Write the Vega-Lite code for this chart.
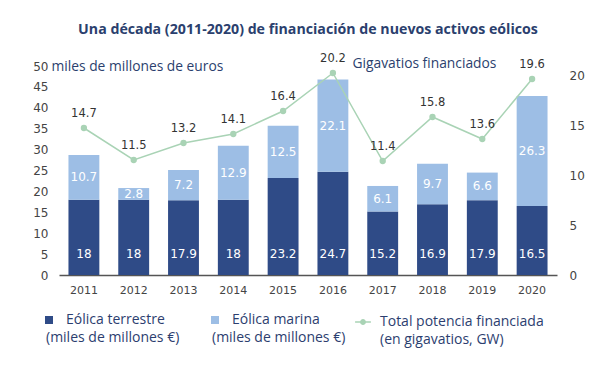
{
  "$schema": "https://vega.github.io/schema/vega-lite/v6.json",
  "width": 498,
  "height": 209,
  "autosize": {"type": "none"},
  "padding": {"left": 59, "top": 66, "right": 36, "bottom": 92},
  "background": "white",
  "title": {
    "text": "Una década (2011-2020) de financiación de nuevos activos eólicos",
    "font": "Open Sans",
    "fontSize": 14.2,
    "fontWeight": "bold",
    "color": "#2B3F6E",
    "anchor": "middle",
    "offset": 16
  },
  "config": {
    "view": {"stroke": null},
    "axis": {"grid": false, "ticks": false}
  },
  "datasets": {
    "bars": [
      {"year": "2011", "serie": "Eólica terrestre", "valor": 18},
      {"year": "2011", "serie": "Eólica marina", "valor": 10.7},
      {"year": "2012", "serie": "Eólica terrestre", "valor": 18},
      {"year": "2012", "serie": "Eólica marina", "valor": 2.8},
      {"year": "2013", "serie": "Eólica terrestre", "valor": 17.9},
      {"year": "2013", "serie": "Eólica marina", "valor": 7.2},
      {"year": "2014", "serie": "Eólica terrestre", "valor": 18},
      {"year": "2014", "serie": "Eólica marina", "valor": 12.9},
      {"year": "2015", "serie": "Eólica terrestre", "valor": 23.2},
      {"year": "2015", "serie": "Eólica marina", "valor": 12.5},
      {"year": "2016", "serie": "Eólica terrestre", "valor": 24.7},
      {"year": "2016", "serie": "Eólica marina", "valor": 22.1},
      {"year": "2017", "serie": "Eólica terrestre", "valor": 15.2},
      {"year": "2017", "serie": "Eólica marina", "valor": 6.1},
      {"year": "2018", "serie": "Eólica terrestre", "valor": 16.9},
      {"year": "2018", "serie": "Eólica marina", "valor": 9.7},
      {"year": "2019", "serie": "Eólica terrestre", "valor": 17.9},
      {"year": "2019", "serie": "Eólica marina", "valor": 6.6},
      {"year": "2020", "serie": "Eólica terrestre", "valor": 16.5},
      {"year": "2020", "serie": "Eólica marina", "valor": 26.3}
    ],
    "gw": [
      {"year": "2011", "gw": 14.7},
      {"year": "2012", "gw": 11.5},
      {"year": "2013", "gw": 13.2},
      {"year": "2014", "gw": 14.1},
      {"year": "2015", "gw": 16.4},
      {"year": "2016", "gw": 20.2},
      {"year": "2017", "gw": 11.4},
      {"year": "2018", "gw": 15.8},
      {"year": "2019", "gw": 13.6},
      {"year": "2020", "gw": 19.6}
    ]
  },
  "encoding": {
    "x": {
      "field": "year",
      "type": "ordinal",
      "scale": {"paddingInner": 0.38, "paddingOuter": 0.19},
      "axis": {
        "title": null,
        "labelAngle": 0,
        "labelFont": "DejaVu Sans",
        "labelFontSize": 11,
        "labelColor": "#444444",
        "labelPadding": 9,
        "domainColor": "#555555",
        "domainWidth": 1.5
      }
    }
  },
  "layer": [
    {
      "data": {"name": "bars"},
      "encoding": {
        "y": {
          "field": "valor",
          "type": "quantitative",
          "stack": "zero",
          "scale": {"domain": [0, 50], "nice": false},
          "axis": {
            "values": [0, 5, 10, 15, 20, 25, 30, 35, 40, 45, 50],
            "domain": false,
            "labelFont": "DejaVu Sans",
            "labelFontSize": 12,
            "labelColor": "#444444",
            "labelPadding": 11,
            "title": "miles de millones de euros",
            "titleAngle": 0,
            "titleX": -8,
            "titleY": 0,
            "titleAlign": "left",
            "titleBaseline": "middle",
            "titleFont": "Open Sans",
            "titleFontSize": 13.8,
            "titleFontWeight": "normal",
            "titleColor": "#2B3F6E"
          }
        },
        "order": {"field": "serie", "sort": "descending"}
      },
      "layer": [
        {
          "mark": {"type": "bar"},
          "encoding": {
            "color": {
              "field": "serie",
              "type": "nominal",
              "scale": {"domain": ["Eólica terrestre", "Eólica marina"], "range": ["#2F4B87", "#9DBEE5"]},
              "legend": {
                "title": null,
                "orient": "none",
                "direction": "horizontal",
                "legendX": -17,
                "legendY": 247,
                "symbolType": "square",
                "symbolSize": 64,
                "symbolStrokeWidth": 0,
                "labelFont": "Open Sans",
                "labelFontSize": 14,
                "labelColor": "#2C3E6F",
                "labelLimit": 0,
                "labelOffset": -10,
                "columnPadding": 28,
                "labelExpr": "['\u2800\u2800' + datum.label, '(miles de millones €)']",
                "encode": {"labels": {"update": {"lineHeight": {"value": 18}}}}
              }
            }
          }
        },
        {
          "mark": {"type": "text", "color": "white", "font": "DejaVu Sans", "fontSize": 12, "baseline": "middle"},
          "encoding": {
            "y": {"field": "valor", "type": "quantitative", "stack": "zero", "bandPosition": 0.5},
            "text": {
              "condition": {"test": "datum.serie === 'Eólica marina'", "field": "valor", "type": "quantitative"},
              "value": ""
            }
          }
        },
        {
          "transform": [{"filter": "datum.serie === 'Eólica terrestre'"}],
          "mark": {"type": "text", "color": "white", "font": "DejaVu Sans", "fontSize": 12, "baseline": "middle"},
          "encoding": {
            "y": {"datum": 5},
            "text": {"field": "valor", "type": "quantitative"}
          }
        }
      ]
    },
    {
      "data": {"name": "gw"},
      "encoding": {
        "y": {
          "field": "gw",
          "type": "quantitative",
          "scale": {"domain": [0, 20.9], "nice": false},
          "axis": {
            "orient": "right",
            "values": [0, 5, 10, 15, 20],
            "domain": false,
            "labelFont": "DejaVu Sans",
            "labelFontSize": 12,
            "labelColor": "#444444",
            "labelPadding": 12,
            "title": "Gigavatios financiados",
            "titleAngle": 0,
            "titleX": -205,
            "titleY": -3,
            "titleAlign": "left",
            "titleBaseline": "middle",
            "titleFont": "Open Sans",
            "titleFontSize": 13.8,
            "titleFontWeight": "normal",
            "titleColor": "#2B3F6E"
          }
        }
      },
      "layer": [
        {
          "mark": {"type": "line", "strokeWidth": 1.5},
          "encoding": {
            "stroke": {
              "datum": "Total potencia financiada",
              "scale": {"range": ["#A9D3B5"]},
              "legend": {
                "title": null,
                "orient": "none",
                "legendX": 295,
                "legendY": 247,
                "symbolType": "M-1,0L-0.28,0M0.28,0L1,0M0.28,0A0.28,0.28 0 1 1 -0.28,0A0.28,0.28 0 1 1 0.28,0Z",
                "symbolSize": 250,
                "symbolStrokeWidth": 1.5,
                "symbolFillColor": "#A9D3B5",
                "labelFont": "Open Sans",
                "labelFontSize": 14,
                "labelColor": "#2C3E6F",
                "labelLimit": 0,
                "labelOffset": 8,
                "labelExpr": "[datum.label, '(en gigavatios, GW)']",
                "encode": {
                  "labels": {"update": {"lineHeight": {"value": 18}}},
                  "symbols": {"update": {"fill": {"value": "#A9D3B5"}}}
                }
              }
            }
          }
        },
        {
          "mark": {"type": "point", "filled": true, "size": 40, "color": "#A9D3B5", "opacity": 1}
        },
        {
          "mark": {"type": "text", "dy": -14, "font": "DejaVu Sans", "fontSize": 11.5, "color": "#333333"},
          "encoding": {"text": {"field": "gw", "type": "quantitative"}}
        }
      ]
    }
  ],
  "resolve": {"scale": {"y": "independent"}}
}
